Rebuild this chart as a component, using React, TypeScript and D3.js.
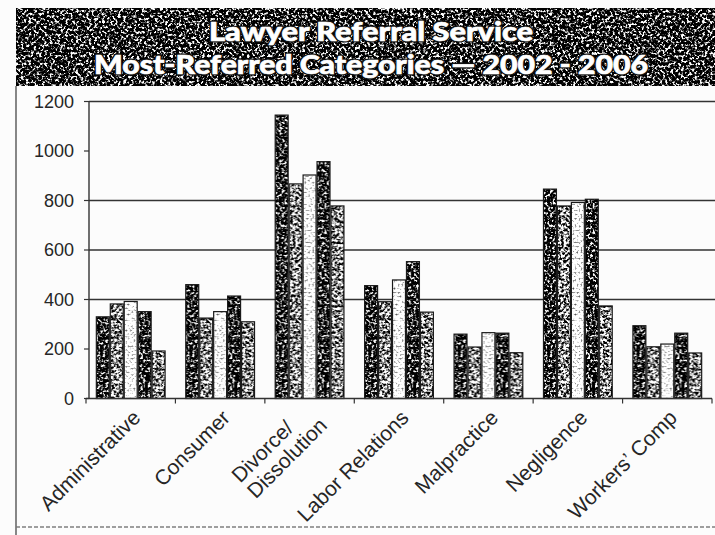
import React, { useEffect, useRef } from "react";
import * as d3 from "d3";

// Referral counts by practice area, one series per year
const categories = [
  "Administrative",
  "Consumer",
  "Divorce/\nDissolution",
  "Labor Relations",
  "Malpractice",
  "Negligence",
  "Workers’ Comp",
];
const years = ["2002", "2003", "2004", "2005", "2006"];

const values2002 = [330, 460, 1145, 456, 260, 846, 294];
const values2003 = [382, 325, 867, 391, 208, 778, 209];
const values2004 = [392, 351, 903, 479, 266, 792, 220];
const values2005 = [351, 414, 957, 553, 264, 805, 264];
const values2006 = [192, 310, 778, 349, 185, 374, 184];

const yTicks = [0, 200, 400, 600, 800, 1000, 1200];
const gridValues = [400, 600, 800, 1200];

const titleLines = ["Lawyer Referral Service", "Most-Referred Categories — 2002 - 2006"];

const W = 715;
const H = 535;

export default function App() {
  const ref = useRef<SVGSVGElement | null>(null);

  useEffect(() => {
    const svg = d3.select(ref.current);
    svg.selectAll("*").remove();

    const series = [values2002, values2003, values2004, values2005, values2006];
    const defs = svg.append("defs");

    // Printed halftone-like textures built from fractal noise
    const addTexture = (
      id: string,
      freq: number,
      seed: number,
      slope: number,
      intercept: number
    ) => {
      const f = defs
        .append("filter")
        .attr("id", id + "-f")
        .attr("filterUnits", "userSpaceOnUse")
        .attr("x", 0)
        .attr("y", 0)
        .attr("width", W)
        .attr("height", H)
        .attr("color-interpolation-filters", "sRGB");
      f.append("feTurbulence")
        .attr("type", "fractalNoise")
        .attr("baseFrequency", freq)
        .attr("numOctaves", 3)
        .attr("seed", seed);
      f.append("feColorMatrix")
        .attr("type", "matrix")
        .attr(
          "values",
          `${slope} 0 0 0 ${intercept}  ${slope} 0 0 0 ${intercept}  ${slope} 0 0 0 ${intercept}  0 0 0 0 1`
        );
      const p = defs
        .append("pattern")
        .attr("id", id)
        .attr("patternUnits", "userSpaceOnUse")
        .attr("width", W)
        .attr("height", H);
      p.append("rect").attr("width", W).attr("height", H).attr("filter", `url(#${id}-f)`);
    };

    addTexture("tex-banner", 0.38, 7, 6, -3.0);
    addTexture("tex-dark", 0.4, 3, 5, -2.45);
    addTexture("tex-mid", 0.38, 11, 4.2, -1.55);
    addTexture("tex-light", 0.5, 5, 2.2, -0.05);

    const yearFill: Record<string, string> = {
      "2002": "url(#tex-dark)",
      "2003": "url(#tex-mid)",
      "2004": "url(#tex-light)",
      "2005": "url(#tex-dark)",
      "2006": "url(#tex-mid)",
    };

    // Page background
    svg.append("rect").attr("width", W).attr("height", H).attr("fill", "#fcfcfc");

    // Title banner
    svg
      .append("rect")
      .attr("x", 16)
      .attr("y", 8)
      .attr("width", W - 16)
      .attr("height", 78)
      .attr("fill", "url(#tex-banner)");

    const titleY = [41, 74];
    const titleW = [324, 554];
    titleLines.forEach((t, i) => {
      const base = (sel: d3.Selection<SVGTextElement, unknown, null, undefined>) =>
        sel
          .attr("x", 371)
          .attr("y", titleY[i])
          .attr("text-anchor", "middle")
          .attr("font-family", "Lato, 'DejaVu Sans', sans-serif")
          .attr("font-weight", 900)
          .attr("font-size", 27)
          .attr("textLength", titleW[i])
          .attr("lengthAdjust", "spacingAndGlyphs")
          .text(t);
      // dark outline under heavy white lettering
      base(svg.append("text") as any)
        .attr("fill", "#111")
        .attr("stroke", "#111")
        .attr("stroke-width", 3.2)
        .attr("stroke-linejoin", "round");
      base(svg.append("text") as any)
        .attr("fill", "#ffffff")
        .attr("stroke", "#ffffff")
        .attr("stroke-width", 0.7)
        .attr("stroke-linejoin", "round");
    });

    // Frame lines
    svg
      .append("line")
      .attr("x1", 16)
      .attr("x2", 16)
      .attr("y1", 86)
      .attr("y2", H)
      .attr("stroke", "#555")
      .attr("stroke-width", 1.4);
    svg
      .append("line")
      .attr("x1", 16)
      .attr("x2", W)
      .attr("y1", 527)
      .attr("y2", 527)
      .attr("stroke", "#777")
      .attr("stroke-width", 2)
      .attr("stroke-dasharray", "4 2")
      .attr("opacity", 0.7);

    // Scales
    const plotLeft = 86;
    const plotRight = 712;
    const y = d3.scaleLinear().domain([0, 1200]).range([398.5, 101.5]);
    const x0 = d3
      .scaleBand<string>()
      .domain(categories)
      .range([plotLeft, plotRight])
      .paddingInner(0.22)
      .paddingOuter(0.11);
    const x1 = d3.scaleBand<string>().domain(years).range([0, x0.bandwidth()]).padding(0);
    const step = x0.step();

    // Gridlines
    svg
      .append("g")
      .selectAll("line")
      .data(gridValues)
      .join("line")
      .attr("x1", 89)
      .attr("x2", W)
      .attr("y1", (d) => y(d))
      .attr("y2", (d) => y(d))
      .attr("stroke", "#333")
      .attr("stroke-width", 1.4);

    // Bars
    const groups = svg
      .append("g")
      .selectAll("g")
      .data(categories)
      .join("g")
      .attr("transform", (c) => `translate(${x0(c)},0)`);

    groups
      .selectAll("rect")
      .data((c) => years.map((yr, si) => ({ yr, v: series[si][categories.indexOf(c)] })))
      .join("rect")
      .attr("x", (d) => x1(d.yr)! + 0.5)
      .attr("width", x1.bandwidth() - 1)
      .attr("y", (d) => y(d.v))
      .attr("height", (d) => y(0) - y(d.v))
      .attr("fill", (d) => yearFill[d.yr])
      .attr("stroke", "#1a1a1a")
      .attr("stroke-width", 1.2);

    // Y axis
    const yAxis = svg.append("g");
    yAxis
      .append("line")
      .attr("x1", 89)
      .attr("x2", 89)
      .attr("y1", y(1200))
      .attr("y2", y(0))
      .attr("stroke", "#333")
      .attr("stroke-width", 1.4);
    yAxis
      .selectAll("line.tick")
      .data(yTicks)
      .join("line")
      .attr("class", "tick")
      .attr("x1", 84)
      .attr("x2", 89)
      .attr("y1", (d) => y(d))
      .attr("y2", (d) => y(d))
      .attr("stroke", "#333")
      .attr("stroke-width", 1.2);
    yAxis
      .selectAll("text")
      .data(yTicks)
      .join("text")
      .attr("x", 74)
      .attr("y", (d) => y(d))
      .attr("dy", "0.36em")
      .attr("text-anchor", "end")
      .attr("font-family", "'Liberation Sans', Arial, sans-serif")
      .attr("font-size", 18)
      .attr("fill", "#262626")
      .text((d) => d);

    // X axis with ticks between groups
    const xAxis = svg.append("g");
    xAxis
      .append("line")
      .attr("x1", plotLeft)
      .attr("x2", plotRight)
      .attr("y1", y(0))
      .attr("y2", y(0))
      .attr("stroke", "#333")
      .attr("stroke-width", 1.4);
    const boundaries = d3.range(categories.length + 1).map((i) => plotLeft + i * step);
    xAxis
      .selectAll("line.tick")
      .data(boundaries)
      .join("line")
      .attr("class", "tick")
      .attr("x1", (d) => d)
      .attr("x2", (d) => d)
      .attr("y1", y(0))
      .attr("y2", y(0) + 5)
      .attr("stroke", "#333")
      .attr("stroke-width", 1.2);

    // Rotated category labels, lines left-aligned inside a block anchored at the tick
    const lh = 22;
    const labelG = xAxis.append("g");
    categories.forEach((c) => {
      const lines = c.split("\n");
      const cx = x0(c)! + x0.bandwidth() / 2;
      const nodes = lines.map((ln) =>
        labelG
          .append("text")
          .attr("font-family", "'Liberation Sans', Arial, sans-serif")
          .attr("font-size", 21)
          .attr("fill", "#262626")
          .text(ln)
      );
      const blockLen = d3.max(nodes, (n) => (n.node() as SVGTextElement).getComputedTextLength()) || 0;
      nodes.forEach((n, i) => {
        const k = (i - (lines.length - 1) / 2) * lh * Math.SQRT1_2;
        n.attr("x", -blockLen)
          .attr("y", 0)
          .attr("transform", `translate(${cx + 11 + k},${419 + k}) rotate(-45)`);
      });
    });
  }, []);

  return (
    <svg
      ref={ref}
      width={W}
      height={H}
      style={{ position: "absolute", left: 0, top: 0, display: "block" }}
    />
  );
}
